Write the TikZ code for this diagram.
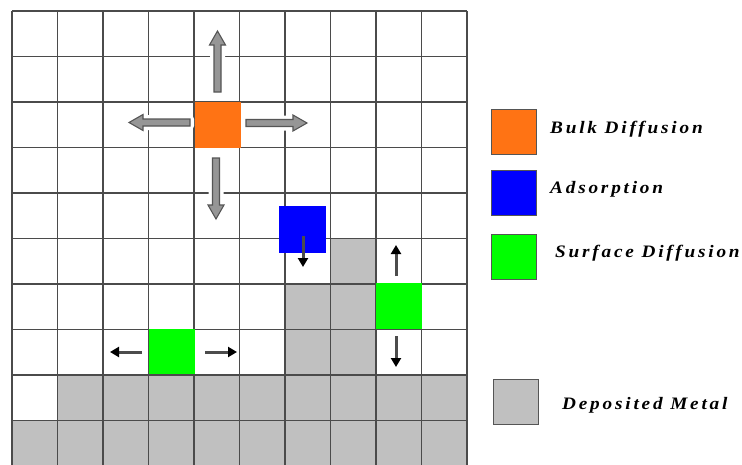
\documentclass[tikz,border=0pt]{standalone}
\usepackage{fontspec}
\setmainfont{Liberation Serif}
\newfontfamily\legendfont{Liberation Serif}[LetterSpace=16,FakeStretch=1.1]
\usetikzlibrary{arrows.meta}

\definecolor{bulkorange}{RGB}{255,115,20}
\definecolor{adsblue}{RGB}{0,0,255}
\definecolor{surfgreen}{RGB}{0,255,0}
\definecolor{metalgray}{RGB}{192,192,192}
\definecolor{gridline}{RGB}{75,75,75}
\definecolor{arrowfill}{RGB}{150,150,150}
\definecolor{arrowedge}{RGB}{85,85,85}

\tikzset{
  cellsq/.style={minimum size=45.5pt, inner sep=0pt, outer sep=0pt},
  legendbox/.style={minimum size=45pt, inner sep=0pt, draw=arrowedge, line width=1pt},
  legendtext/.style={anchor=base west, inner sep=0pt,
    font=\legendfont\fontsize{17.5}{20}\selectfont\bfseries\itshape},
  hop/.style={line width=3pt, draw=black!70,
    -{Triangle[length=9pt,width=10pt,fill=black,color=black]}},
  pics/fatarrow/.style={code={
    % white halo that breaks the grid lines around the arrow
    \path[draw=white, line width=8pt, line join=round]
      (0,-3.5) -- (47,-3.5) -- (47,-8) -- (61,0) -- (47,8) -- (47,3.5) -- (0,3.5) -- cycle;
    \path[fill=arrowfill, draw=arrowedge, line width=1.1pt, line join=miter]
      (0,-3.5) -- (47,-3.5) -- (47,-8) -- (61,0) -- (47,8) -- (47,3.5) -- (0,3.5) -- cycle;
  }}
}

\begin{document}
\begin{tikzpicture}[x=1pt, y=-1pt]
  \useasboundingbox (0,0) rectangle (742,464);
  \fill[white] (0,0) rectangle (742,464);

  % deposited metal cells
  \fill[metalgray] (12,420) rectangle (467,466);
  \fill[metalgray] (57.5,374.5) rectangle (467,420);
  \fill[metalgray] (285,283.5) rectangle (330.5,374.5);
  \fill[metalgray] (330.5,238) rectangle (376,374.5);

  % lattice
  \foreach \i in {0,...,10}{
    \draw[gridline, line width=1.5pt] (12+45.5*\i, 11) -- (12+45.5*\i, 466);
    \draw[gridline, line width=1.5pt] (12, 11+45.5*\i) -- (467, 11+45.5*\i);
  }

  % bulk diffusion arrows
  \pic[rotate=90]  at (217.5,92)  {fatarrow};
  \pic[rotate=180] at (190,122.5) {fatarrow};
  \pic             at (246,123)   {fatarrow};
  \pic[rotate=-90] at (216,158)   {fatarrow};

  % atoms
  \node[cellsq, fill=bulkorange] (bulk) at (217.75,124.75) {};
  \node[cellsq, fill=surfgreen]  (surfL) at (171.75,351.25) {};
  \node[cellsq, fill=surfgreen]  (surfR) at (399,306) {};
  \node[cellsq, minimum size=47pt, fill=adsblue] (ads) at (302,229) {};

  % hops
  \coordinate (adsend) at (303,267);
  \draw[hop] (303,236) -- (adsend);
  \coordinate (upend) at (396,245);
  \draw[hop] (396,276) -- (upend);
  \coordinate (downend) at (396,367);
  \draw[hop] (396,336) -- (downend);
  \coordinate (leftend) at (110,352);
  \draw[hop] (142,352) -- (leftend);
  \coordinate (rightend) at (237,352);
  \draw[hop] (205,352) -- (rightend);

  % legend
  \node[legendbox, fill=bulkorange] (kbulk) at (514,131.5) {};
  \node[legendbox, fill=adsblue]    (kads)  at (514,193) {};
  \node[legendbox, fill=surfgreen]  (ksurf) at (514,257) {};
  \node[legendbox, fill=metalgray]  (kmetal) at (516,401.5) {};

  \node[legendtext] (tbulk)  at (550,133) {Bulk Diffusion};
  \node[legendtext] (tads)   at (550,193) {Adsorption};
  \node[legendtext] (tsurf)  at (555,257) {Surface Diffusion};
  \node[legendtext] (tmetal) at (562,409) {Deposited Metal};
\end{tikzpicture}
\end{document}
